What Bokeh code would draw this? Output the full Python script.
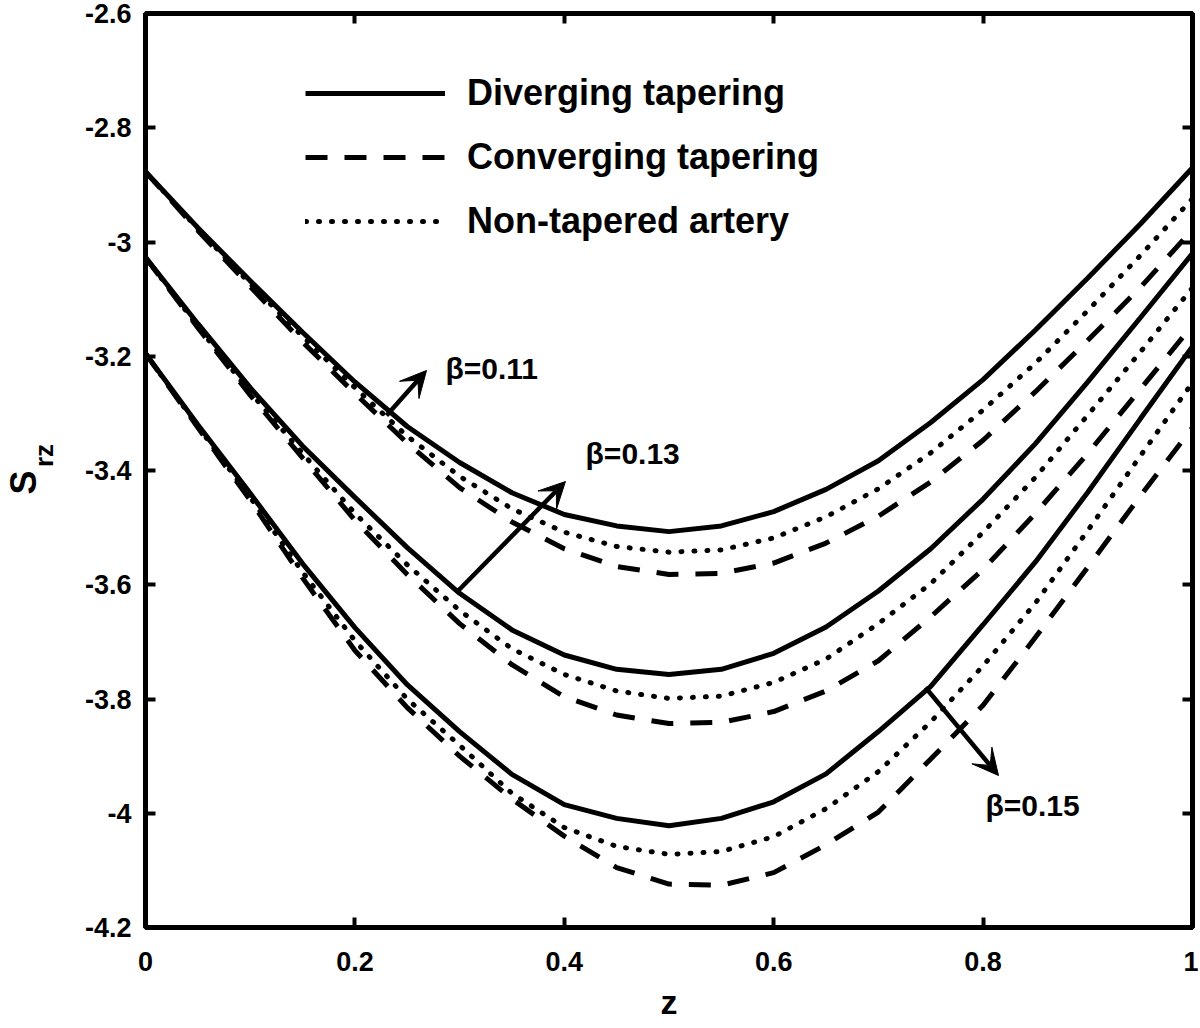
from math import pi
from bokeh.plotting import figure
from bokeh.models import (FixedTicker, LinearAxis, Range1d, Legend, LegendItem,
                          Label, Arrow, VeeHead)
from bokeh.embed import file_html
from bokeh.resources import INLINE

# ---------------- data ----------------
z = [0.00, 0.05, 0.10, 0.15, 0.20, 0.25, 0.30, 0.35, 0.40, 0.45, 0.50,
     0.55, 0.60, 0.65, 0.70, 0.75, 0.80, 0.85, 0.90, 0.95, 1.00]

div_011 = [-2.877, -2.975, -3.068, -3.158, -3.245, -3.323, -3.386, -3.439, -3.477, -3.497, -3.507,
           -3.497, -3.472, -3.433, -3.383, -3.316, -3.241, -3.154, -3.063, -2.969, -2.870]
non_011 = [-2.877, -2.977, -3.073, -3.165, -3.255, -3.340, -3.410, -3.467, -3.508, -3.533, -3.543,
           -3.539, -3.518, -3.481, -3.432, -3.369, -3.294, -3.212, -3.120, -3.024, -2.924]
conv_011 = [-2.877, -2.980, -3.078, -3.175, -3.265, -3.352, -3.430, -3.490, -3.537, -3.568, -3.582,
            -3.580, -3.562, -3.527, -3.480, -3.420, -3.347, -3.262, -3.172, -3.080, -2.978]

div_013 = [-3.027, -3.143, -3.255, -3.357, -3.447, -3.535, -3.615, -3.679, -3.723, -3.748, -3.757,
           -3.748, -3.720, -3.674, -3.611, -3.537, -3.450, -3.353, -3.245, -3.133, -3.020]
non_013 = [-3.027, -3.148, -3.263, -3.370, -3.475, -3.565, -3.645, -3.712, -3.757, -3.786, -3.799,
           -3.795, -3.771, -3.730, -3.668, -3.598, -3.508, -3.412, -3.303, -3.193, -3.080]
conv_013 = [-3.027, -3.150, -3.268, -3.378, -3.487, -3.582, -3.668, -3.740, -3.796, -3.828, -3.843,
            -3.841, -3.822, -3.786, -3.733, -3.656, -3.573, -3.475, -3.370, -3.258, -3.146]

div_015 = [-3.195, -3.320, -3.440, -3.563, -3.675, -3.775, -3.857, -3.932, -3.985, -4.009, -4.022,
           -4.009, -3.980, -3.931, -3.857, -3.778, -3.670, -3.560, -3.438, -3.310, -3.183]
non_015 = [-3.195, -3.323, -3.447, -3.578, -3.698, -3.800, -3.881, -3.965, -4.025, -4.058, -4.072,
           -4.067, -4.041, -3.992, -3.927, -3.840, -3.742, -3.632, -3.505, -3.375, -3.246]
conv_015 = [-3.195, -3.325, -3.452, -3.588, -3.715, -3.815, -3.900, -3.975, -4.040, -4.095, -4.124,
            -4.126, -4.104, -4.055, -3.998, -3.905, -3.811, -3.692, -3.569, -3.445, -3.325]

x_ticks = [0, 0.2, 0.4, 0.6, 0.8, 1]
x_tick_labels = ["0", "0.2", "0.4", "0.6", "0.8", "1"]
y_ticks = [-4.2, -4, -3.8, -3.6, -3.4, -3.2, -3, -2.8, -2.6]
y_tick_labels = ["-4.2", "-4", "-3.8", "-3.6", "-3.4", "-3.2", "-3", "-2.8", "-2.6"]

legend_labels = ["Diverging tapering", "Converging tapering", "Non-tapered artery"]
beta_labels = ["\u03b2=0.11", "\u03b2=0.13", "\u03b2=0.15"]

FONT = "Liberation Sans"

# ---------------- figure ----------------
p = figure(frame_width=1047, frame_height=914,
           x_range=Range1d(0, 1), y_range=Range1d(-4.2, -2.6),
           output_backend="svg", toolbar_location=None,
           min_border_left=145, min_border_top=13, min_border_right=6, min_border_bottom=93)
p.grid.visible = False
p.outline_line_color = "black"
p.outline_line_width = 5
p.background_fill_color = "white"
p.border_fill_color = "white"

def style_axis(ax, ticks, labels, show_labels=True):
    ax.ticker = FixedTicker(ticks=ticks, minor_ticks=[])
    ax.axis_line_color = None
    ax.major_tick_in = 10
    ax.major_tick_out = 0
    ax.major_tick_line_width = 4
    ax.major_tick_line_color = "black"
    ax.minor_tick_line_color = None
    ax.major_label_text_font = FONT
    ax.major_label_text_font_style = "bold"
    ax.major_label_text_color = "black"
    if show_labels:
        ax.major_label_overrides = {t: l for t, l in zip(ticks, labels)}
        ax.major_label_text_font_size = "27px"
    else:
        ax.major_label_overrides = {t: "" for t in ticks}
        ax.major_label_text_font_size = "8px"
        ax.major_label_standoff = 0

style_axis(p.xaxis[0], x_ticks, x_tick_labels)
style_axis(p.yaxis[0], y_ticks, y_tick_labels)
p.xaxis[0].major_label_standoff = 24
p.yaxis[0].major_label_standoff = 14
p.xaxis[0].axis_label = "z"
p.xaxis[0].axis_label_text_font = FONT
p.xaxis[0].axis_label_text_font_style = "bold"
p.xaxis[0].axis_label_text_font_size = "34px"
p.xaxis[0].axis_label_text_color = "black"
p.xaxis[0].axis_label_standoff = 9

ax_r = LinearAxis()
style_axis(ax_r, y_ticks, y_tick_labels, show_labels=False)
p.add_layout(ax_r, "right")
ax_t = LinearAxis()
style_axis(ax_t, x_ticks, x_tick_labels, show_labels=False)
p.add_layout(ax_t, "above")

# ---------------- curves ----------------
LW = 5
DASH = "22 17"
DOT = "1 12"

groups = [(div_011, non_011, conv_011), (div_013, non_013, conv_013), (div_015, non_015, conv_015)]
first = None
for div, non, conv in groups:
    r_div = p.line(z, div, line_color="black", line_width=LW)
    r_conv = p.line(z, conv, line_color="black", line_width=LW, line_dash=DASH)
    r_non = p.line(z, non, line_color="black", line_width=LW, line_dash=DOT, line_cap="round")
    if first is None:
        first = (r_div, r_conv, r_non)

legend = Legend(items=[LegendItem(label=legend_labels[0], renderers=[first[0]]),
                       LegendItem(label=legend_labels[1], renderers=[first[1]]),
                       LegendItem(label=legend_labels[2], renderers=[first[2]])],
                location=(160, 685))
legend.glyph_width = 140
legend.glyph_height = 40
legend.label_height = 40
legend.label_standoff = 22
legend.spacing = 22
legend.padding = 0
legend.margin = 0
legend.border_line_color = None
legend.background_fill_alpha = 0
legend.label_text_font = FONT
legend.label_text_font_style = "bold"
legend.label_text_font_size = "36px"
legend.label_text_color = "black"
p.add_layout(legend)

# ---------------- annotations ----------------
arrows = [((0.2302, -3.3037), (0.2684, -3.2249)),
          ((0.2970, -3.6136), (0.4011, -3.4193)),
          ((0.7450, -3.7799), (0.8147, -3.9339))]
for (xs, ys), (xe, ye) in arrows:
    p.add_layout(Arrow(end=VeeHead(size=26, fill_color="black", line_color="black", line_width=1),
                       x_start=xs, y_start=ys, x_end=xe, y_end=ye,
                       line_color="black", line_width=4.5))

beta_pos = [(0.2865, -3.2214), (0.4203, -3.370), (0.8023, -3.9864)]
for (bx, by), txt in zip(beta_pos, beta_labels):
    p.add_layout(Label(x=bx, y=by, text=txt, text_font=FONT, text_font_style="bold",
                       text_font_size="30px", text_baseline="middle", text_align="left",
                       text_color="black"))

# y axis label S_rz, placed in the left side panel so it is not clipped to the frame
p.add_layout(Label(x=-0.1170, y=-3.421, text="S",
                   text_font=FONT, text_font_style="bold",
                   text_font_size="36px", text_baseline="middle", text_align="center",
                   angle=pi / 2, text_color="black"), "left")
p.add_layout(Label(x=-0.0970, y=-3.3737, text="rz",
                   text_font=FONT, text_font_style="bold",
                   text_font_size="26px", text_baseline="middle", text_align="center",
                   angle=pi / 2, text_color="black"), "left")

open("out.html", "w").write(file_html(p, INLINE))
